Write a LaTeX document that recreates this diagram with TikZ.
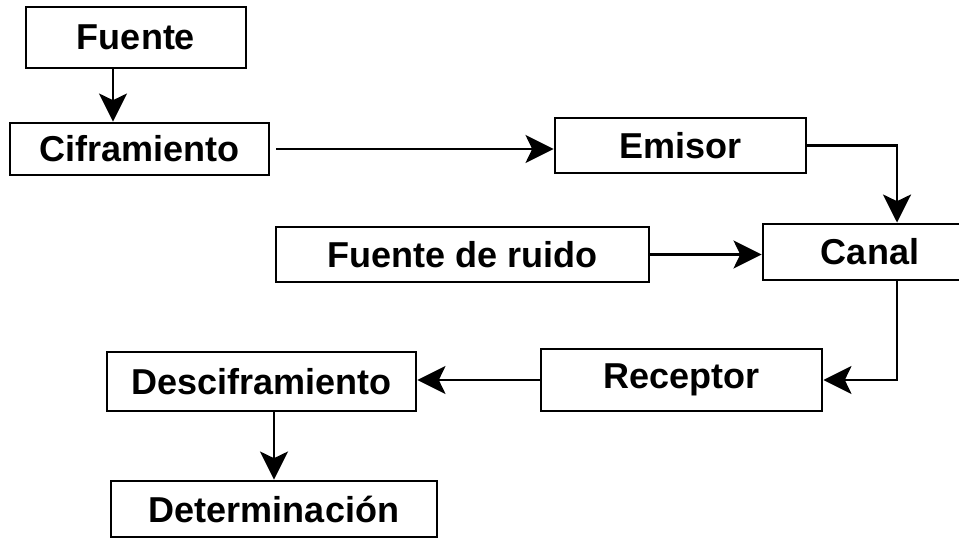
\documentclass[tikz,border=0pt]{standalone}
\usepackage{fontspec}
\setmainfont{Liberation Sans}
\usetikzlibrary{arrows.meta}
\tikzstyle{block}=[%
  draw,
  line width=2.2pt,
  inner sep=0pt,
  font=\fontsize{27}{32}\selectfont\bfseries
]
\tikzstyle{flow}=[%
  line width=2.2pt,
  -{Stealth[length=21pt,width=21pt,inset=5pt]}
]
\begin{document}
\begin{tikzpicture}[x=0.75pt, y=-0.75pt]
      \clip (0,0) rectangle (959,538);
      \node[block, minimum width=165pt, minimum height=45.75pt] (fuente) at (136, 37.5) {Fuente};
      \node[block, minimum width=194.25pt, minimum height=39pt] (cifra) at (139.5, 149) {Ciframiento};
      \node[block, minimum width=188.25pt, minimum height=41.25pt] (emisor) at (680.5, 145.5) {Emisor};
      \node[block, minimum width=279.75pt, minimum height=41.25pt] (ruido) at (462.5, 254.5) {Fuente de ruido};
      \node[block, minimum width=160.5pt, minimum height=42pt] (canal) at (870, 252) {Canal};
      \node[block, minimum width=210.75pt, minimum height=46.5pt] (receptor) at (681.5, 380) {Receptor};
      \node[block, minimum width=231.75pt, minimum height=44.25pt] (descifra) at (261.5, 381.5) {Desciframiento};
      \node[block, minimum width=244.5pt, minimum height=42pt] (determ) at (274, 509) {Determinación};
      \coordinate (left) at (113, 0);
      \coordinate (right) at (897, 0);
      \draw[flow] (fuente.south -| left) to (cifra.north -| left);
      \draw[flow, shorten <=4.5pt] (cifra.east) to (emisor.west |- cifra.east);
      \draw[flow] (emisor.east) -| (right |- canal.north);
      \draw[flow] (ruido.east) to (canal.west |- ruido.east);
      \draw[flow] (right |- canal.south) |- (receptor.east);
      \draw[flow] (receptor.west) to (descifra.east |- receptor.west);
      \draw[flow] (descifra.south -| determ.north) to (determ.north);
    \end{tikzpicture}
\end{document}
